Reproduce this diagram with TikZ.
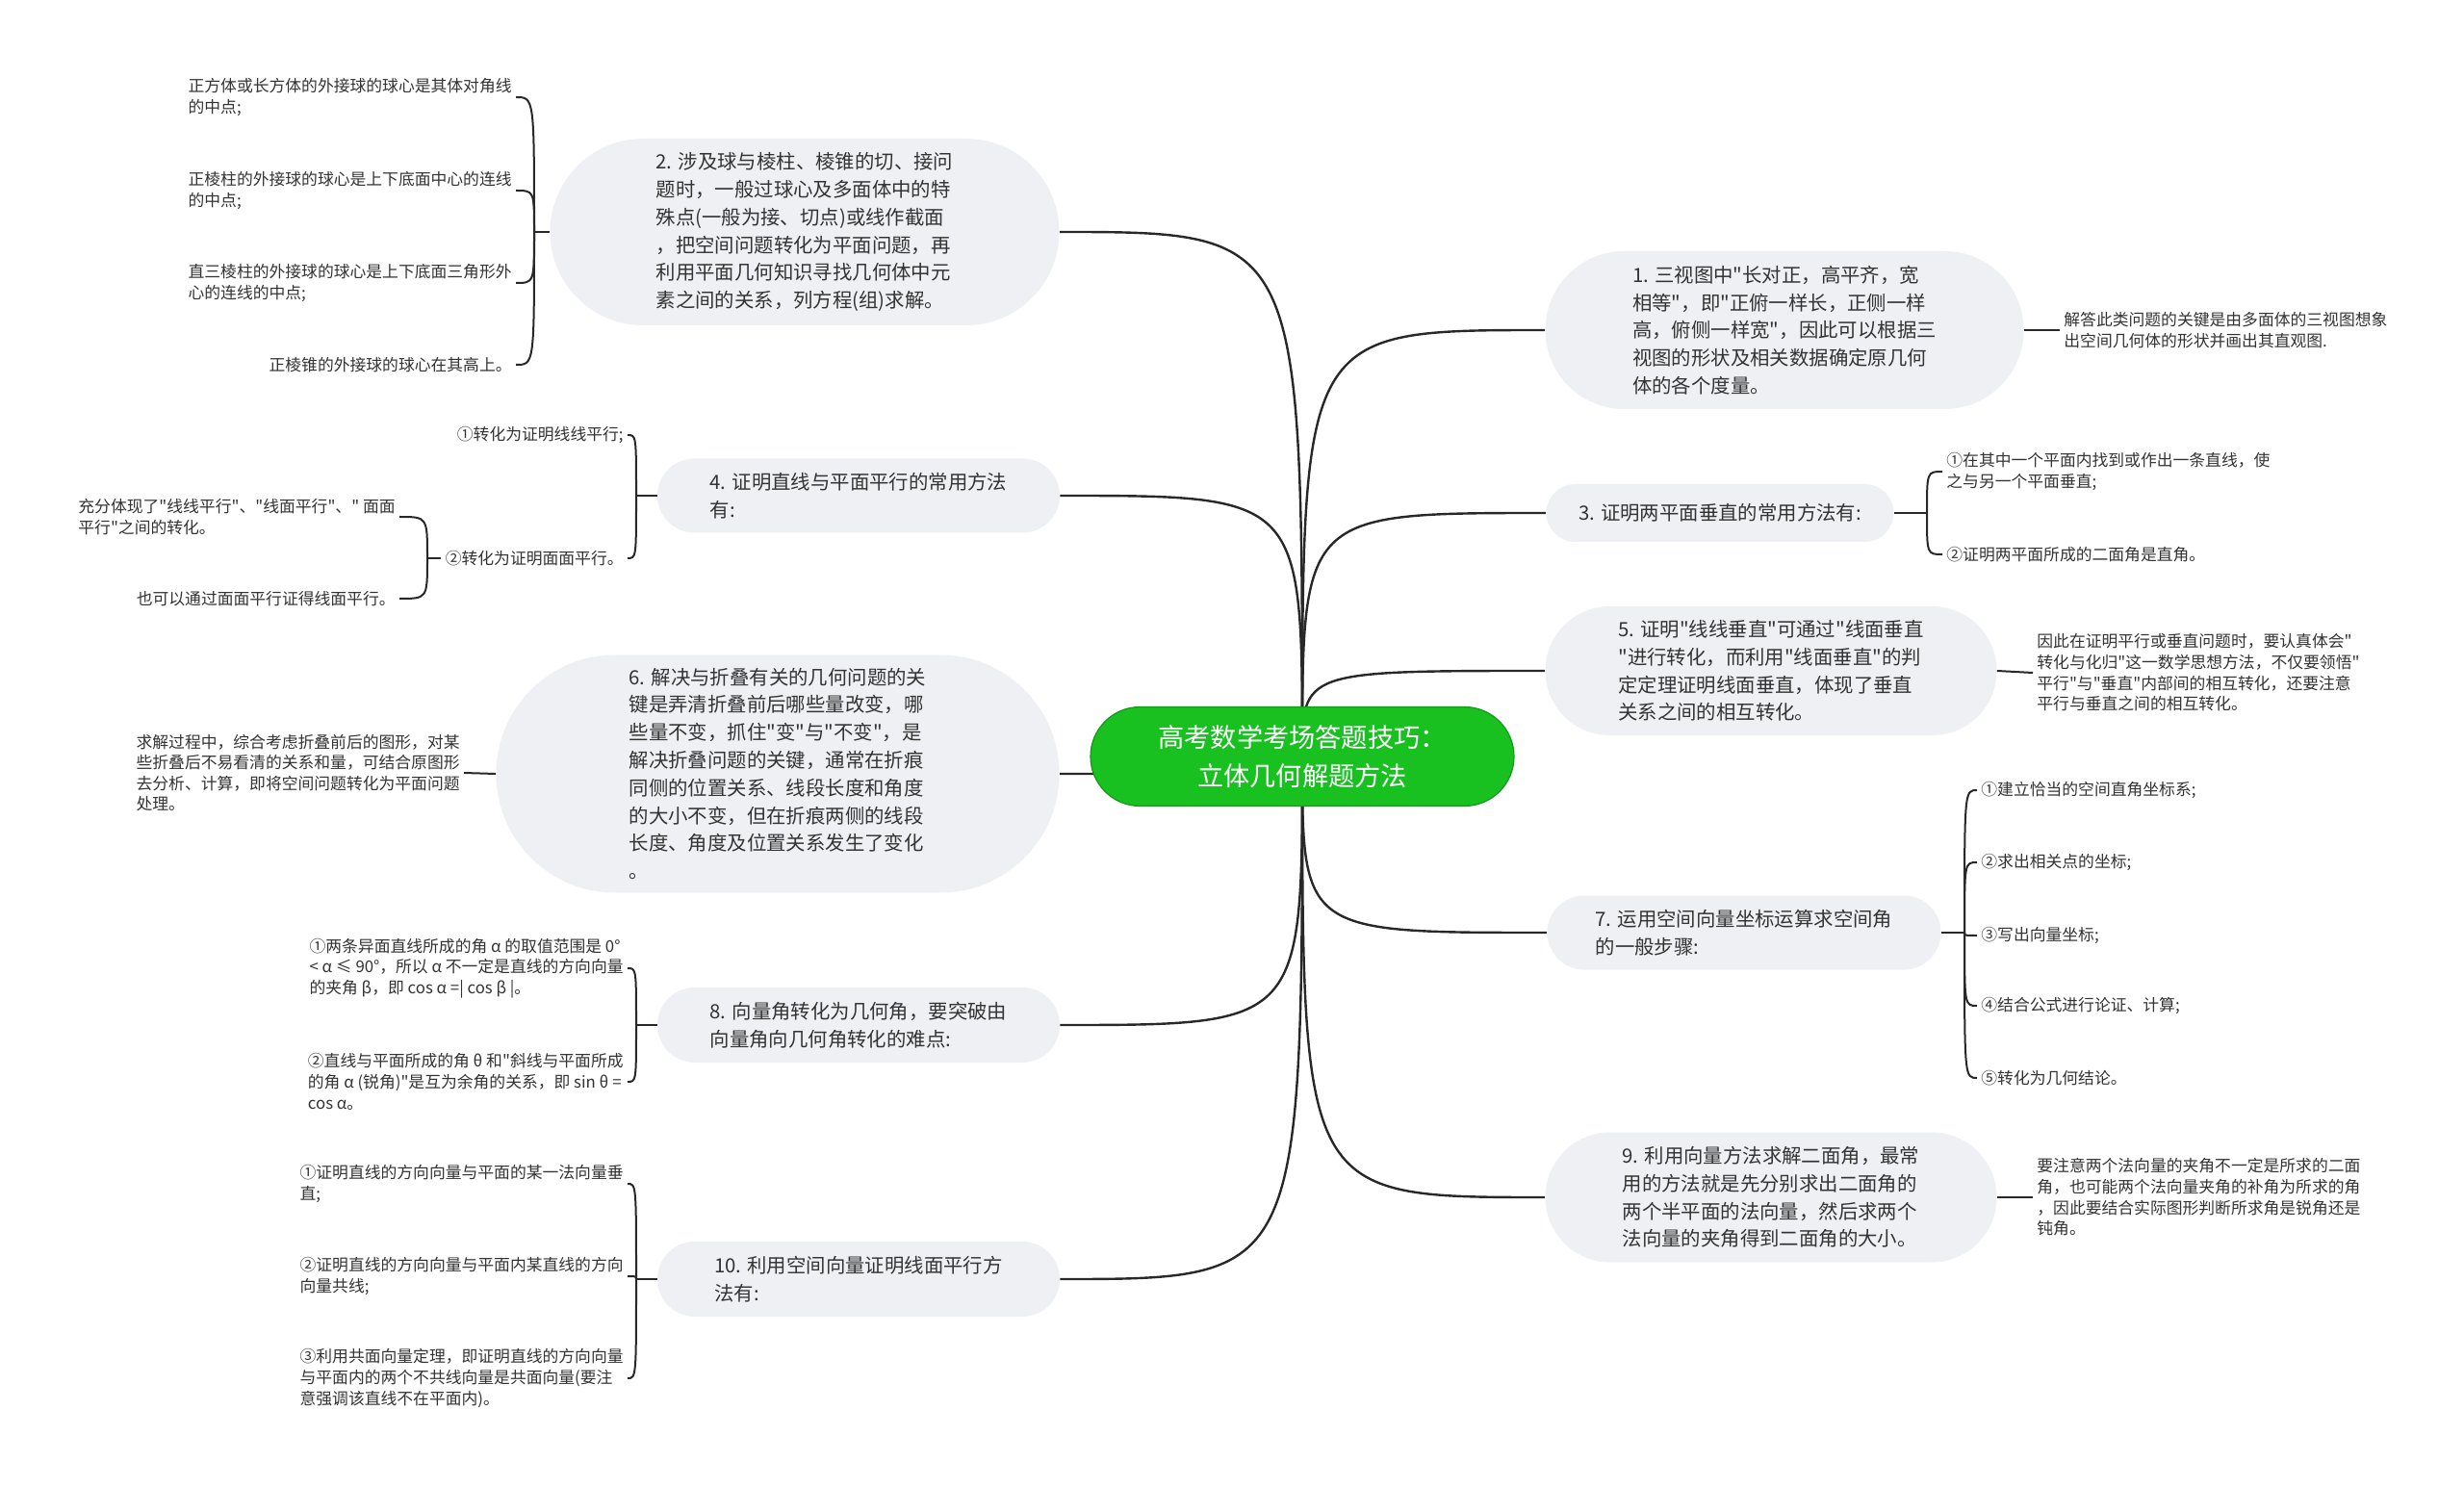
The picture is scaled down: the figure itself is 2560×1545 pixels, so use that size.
\documentclass[tikz,border=0pt]{standalone}
\usepackage{fontspec}
\setmainfont{Noto Sans CJK SC}[Ligatures=TeXOff]
\usepackage{tikz}
\usetikzlibrary{shapes.misc,backgrounds,calc}
\definecolor{topicfill}{RGB}{238,240,244}
\definecolor{rootgreen}{RGB}{24,192,32}
\definecolor{inkgray}{RGB}{51,51,51}
\definecolor{linegray}{RGB}{40,40,40}

\tikzset{
  root/.style={rounded rectangle, fill=rootgreen, draw=rootgreen!80!black, line width=0.6pt,
    text=white, align=center, font=\fontsize{13.6}{19.6}\selectfont,
    minimum width=220pt, minimum height=51.5pt, inner sep=0pt},
  topic/.style 2 args={rounded rectangle, fill=topicfill, text=inkgray, align=left,
    font=\fontsize{10.2}{14.4}\selectfont, minimum width=#1, minimum height=#2, inner sep=0pt},
  leaf/.style={text=inkgray, align=left, font=\fontsize{8.4}{10.8}\selectfont, inner sep=2pt},
  branch/.style={draw=linegray, line width=1.2pt},
  brace/.style={draw=linegray, line width=1pt},
}

\begin{document}
\begin{tikzpicture}[x=0.5pt, y=-0.5pt]
    \useasboundingbox (0,0) rectangle (2560,1545);

    % centre
    \node[root] (ctr) at (1353,786) {高考数学考场答题技巧：\\立体几何解题方法};

    % right topics
    \node[topic={248.5pt}{82pt}] (n1) at (1854,343) {1. 三视图中"长对正，高平齐，宽\\相等"，即"正俯一样长，正侧一样\\高，俯侧一样宽"，因此可以根据三\\视图的形状及相关数据确定原几何\\体的各个度量。};
    \node[topic={180.5pt}{30pt}] (n3) at (1787,533) {3. 证明两平面垂直的常用方法有:};
    \node[topic={234.5pt}{67pt}] (n5) at (1840,697) {5. 证明"线线垂直"可通过"线面垂直\\"进行转化，而利用"线面垂直"的判\\定定理证明线面垂直，体现了垂直\\关系之间的相互转化。};
    \node[topic={204.5pt}{38.5pt}] (n7) at (1812,969) {7. 运用空间向量坐标运算求空间角\\的一般步骤:};
    \node[topic={234.5pt}{67.5pt}] (n9) at (1840,1244) {9. 利用向量方法求解二面角，最常\\用的方法就是先分别求出二面角的\\两个半平面的法向量，然后求两个\\法向量的夹角得到二面角的大小。};

    % left topics
    \node[topic={264.5pt}{97pt}] (n2) at (836,241) {2. 涉及球与棱柱、棱锥的切、接问\\题时，一般过球心及多面体中的特\\殊点(一般为接、切点)或线作截面\\，把空间问题转化为平面问题，再\\利用平面几何知识寻找几何体中元\\素之间的关系，列方程(组)求解。};
    \node[topic={209pt}{38.5pt}] (n4) at (892,515) {4. 证明直线与平面平行的常用方法\\有:};
    \node[topic={292.5pt}{123.5pt}] (n6) at (808,804) {6. 解决与折叠有关的几何问题的关\\键是弄清折叠前后哪些量改变，哪\\些量不变，抓住"变"与"不变"，是\\解决折叠问题的关键，通常在折痕\\同侧的位置关系、线段长度和角度\\的大小不变，但在折痕两侧的线段\\长度、角度及位置关系发生了变化\\。};
    \node[topic={209pt}{39pt}] (n8) at (892,1065) {8. 向量角转化为几何角，要突破由\\向量角向几何角转化的难点:};
    \node[topic={209pt}{39pt}] (n10) at (892,1329) {10. 利用空间向量证明线面平行方\\法有:};

    % right leaves
    \node[leaf, anchor=west] (l1) at (2140,343) {解答此类问题的关键是由多面体的三视图想象\\出空间几何体的形状并画出其直观图.};
    \node[leaf, anchor=west] (l3a) at (2018,490) {①在其中一个平面内找到或作出一条直线，使\\之与另一个平面垂直;};
    \node[leaf, anchor=west] (l3b) at (2018,576) {②证明两平面所成的二面角是直角。};
    \node[leaf, anchor=west] (l5) at (2112,699) {因此在证明平行或垂直问题时，要认真体会"\\转化与化归"这一数学思想方法，不仅要领悟"\\平行"与"垂直"内部间的相互转化，还要注意\\平行与垂直之间的相互转化。};
    \node[leaf, anchor=west] (l7a) at (2054,821) {①建立恰当的空间直角坐标系;};
    \node[leaf, anchor=west] (l7b) at (2054,896) {②求出相关点的坐标;};
    \node[leaf, anchor=west] (l7c) at (2054,972) {③写出向量坐标;};
    \node[leaf, anchor=west] (l7d) at (2054,1045) {④结合公式进行论证、计算;};
    \node[leaf, anchor=west] (l7e) at (2054,1120) {⑤转化为几何结论。};
    \node[leaf, anchor=west] (l9) at (2112,1244) {要注意两个法向量的夹角不一定是所求的二面\\角，也可能两个法向量夹角的补角为所求的角\\，因此要结合实际图形判断所求角是锐角还是\\钝角。};

    % left leaves
    \node[leaf, anchor=east] (l2a) at (536,101) {正方体或长方体的外接球的球心是其体对角线\\的中点;};
    \node[leaf, anchor=east] (l2b) at (536,198) {正棱柱的外接球的球心是上下底面中心的连线\\的中点;};
    \node[leaf, anchor=east] (l2c) at (536,294) {直三棱柱的外接球的球心是上下底面三角形外\\心的连线的中点;};
    \node[leaf, anchor=east] (l2d) at (536,379) {正棱锥的外接球的球心在其高上。};
    \node[leaf, anchor=east] (l4a) at (652,452) {①转化为证明线线平行;};
    \node[leaf, anchor=east] (l4b) at (652,580) {②转化为证明面面平行。};
    \node[leaf, anchor=east] (l4c) at (415,537) {充分体现了"线线平行"、"线面平行"、" 面面\\平行"之间的转化。};
    \node[leaf, anchor=east] (l4d) at (415,622) {也可以通过面面平行证得线面平行。};
    \node[leaf, anchor=east] (l6) at (482,803) {求解过程中，综合考虑折叠前后的图形，对某\\些折叠后不易看清的关系和量，可结合原图形\\去分析、计算，即将空间问题转化为平面问题\\处理。};
    \node[leaf, anchor=east] (l8a) at (652,1006) {①两条异面直线所成的角 α 的取值范围是 0°\\< α ≤ 90°，所以 α 不一定是直线的方向向量\\的夹角 β，即 cos α =| cos β |。};
    \node[leaf, anchor=east] (l8b) at (652,1124) {②直线与平面所成的角 θ 和"斜线与平面所成\\的角 α (锐角)"是互为余角的关系，即 sin θ =\\cos α。};
    \node[leaf, anchor=east] (l10a) at (652,1230) {①证明直线的方向向量与平面的某一法向量垂\\直;};
    \node[leaf, anchor=east] (l10b) at (652,1326) {②证明直线的方向向量与平面内某直线的方向\\向量共线;};
    \node[leaf, anchor=east] (l10c) at (652,1432) {③利用共面向量定理，即证明直线的方向向量\\与平面内的两个不共线向量是共面向量(要注\\意强调该直线不在平面内)。};

    % brace junctions
    \coordinate (j2) at (555,241);
    \coordinate (j4) at (661,515);
    \coordinate (j4b) at (444,580);
    \coordinate (j8) at (661,1065);
    \coordinate (j10) at (661,1329);
    \coordinate (j3) at (2002,533);
    \coordinate (j7) at (2041,969);

    \begin{scope}[on background layer]
    \fill[white] (0,0) rectangle (2560,1545);
    % branches from the centre
    \foreach \n in {n1,n3,n5,n7,n9}
      \draw[branch] (ctr.center) .. controls (ctr.center |- \n.west) .. (\n.west);
    \foreach \n in {n2,n4,n6,n8,n10}
      \draw[branch] (ctr.center) .. controls (ctr.center |- \n.east) .. (\n.east);
    \end{scope}

    % single leaves
    \draw[brace] (n1.east) -- (l1.west);
    \draw[brace] (n5.east) -- (l5.west);
    \draw[brace] (n9.east) -- (l9.west);
    \draw[brace] (l6.east) -- (n6.west);

    % braces
    \draw[brace] (n2.west) -- (j2);
    \foreach \k in {a,b,c,d}
      \draw[brace] (j2) .. controls (j2 |- l2\k.east) .. (l2\k.east);
    \draw[brace] (n4.west) -- (j4);
    \foreach \k in {a,b}
      \draw[brace] (j4) .. controls (j4 |- l4\k.east) .. (l4\k.east);
    \draw[brace] (l4b.west) -- (j4b);
    \foreach \k in {c,d}
      \draw[brace] (j4b) .. controls (j4b |- l4\k.east) .. (l4\k.east);
    \draw[brace] (n8.west) -- (j8);
    \foreach \k in {a,b}
      \draw[brace] (j8) .. controls (j8 |- l8\k.east) .. (l8\k.east);
    \draw[brace] (n10.west) -- (j10);
    \foreach \k in {a,b,c}
      \draw[brace] (j10) .. controls (j10 |- l10\k.east) .. (l10\k.east);
    \draw[brace] (n3.east) -- (j3);
    \foreach \k in {a,b}
      \draw[brace] (j3) .. controls (j3 |- l3\k.west) .. (l3\k.west);
    \draw[brace] (n7.east) -- (j7);
    \foreach \k in {a,b,c,d,e}
      \draw[brace] (j7) .. controls (j7 |- l7\k.west) .. (l7\k.west);
\end{tikzpicture}
\end{document}
